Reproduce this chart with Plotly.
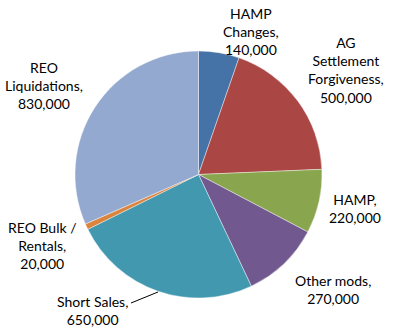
import plotly.graph_objects as go

categories = ["HAMP Changes", "AG Settlement Forgiveness", "HAMP", "Other mods",
              "Short Sales", "REO Bulk / Rentals", "REO Liquidations"]
values = [140000, 500000, 220000, 270000, 650000, 20000, 830000]
label_texts = ["HAMP<br>Changes,<br>140,000",
               "AG<br>Settlement<br>Forgiveness,<br>500,000",
               "HAMP,<br>220,000",
               "Other mods,<br>270,000",
               "Short Sales,<br>650,000",
               "REO Bulk /<br>Rentals,<br>20,000",
               "REO<br>Liquidations,<br>830,000"]
colors = ["#4572A7", "#AA4643", "#89A54E", "#71588F", "#4198AF", "#DB843D", "#93A9CF"]

W, H = 394, 329
# label centres in pixels
label_pos = [(251, 31), (346, 69.5), (355, 208.5), (333, 289.5), (92, 310.5), (42, 245), (44, 85)]

fig = go.Figure(go.Pie(
    labels=categories, values=values, sort=False, direction="clockwise", rotation=0,
    marker=dict(colors=colors, line=dict(color="rgba(255,255,255,0.7)", width=0.6)),
    textinfo="none", hoverinfo="label+value", showlegend=False,
    domain=dict(x=[74 / W, 323 / W], y=[1 - 298 / H, 1 - 51 / H]),
))

for txt, (px, py) in zip(label_texts, label_pos):
    fig.add_annotation(x=px / W, y=1 - py / H, xref="paper", yref="paper",
                       text=txt, showarrow=False, xanchor="center", yanchor="middle",
                       align="center", font=dict(family="Lato", size=14, color="#000000"))

fig.add_shape(type="line", xref="paper", yref="paper",
              x0=131 / W, y0=1 - 303 / H, x1=158 / W, y1=1 - 292 / H,
              line=dict(color="#000000", width=1))

fig.update_layout(width=W, height=H, margin=dict(l=0, r=0, t=0, b=0),
                  paper_bgcolor="white", plot_bgcolor="white")
fig.write_html("out.html")
